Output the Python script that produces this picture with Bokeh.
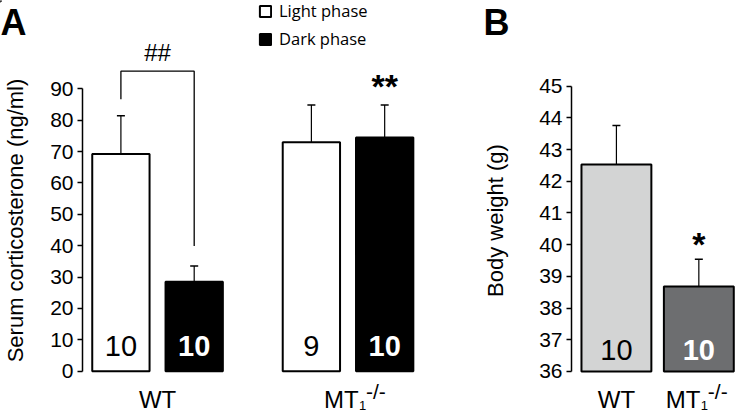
from bokeh.plotting import figure
from bokeh.layouts import row
from bokeh.models import (Range1d, FixedTicker, Whisker, TeeHead, ColumnDataSource,
                          Legend, LegendItem, GridBox)
from bokeh.core.properties import value
from bokeh.embed import file_html
from bokeh.resources import INLINE

# ---------------- data ----------------
genotypes = ["WT", "MT1-/-"]
phases = ["Light phase", "Dark phase"]
phase_colors = ["white", "black"]
cort_mean = [69.2, 28.5, 73.0, 74.5]      # WT light, WT dark, MT1 light, MT1 dark
cort_sem = [12.2, 5.0, 11.8, 10.3]
cort_n = [10, 10, 9, 10]
cort_ticks = [0, 10, 20, 30, 40, 50, 60, 70, 80, 90]

bw_mean = [42.53, 38.68]                  # WT, MT1-/-
bw_sem = [1.23, 0.86]
bw_n = [10, 10]
bw_ticks = [36, 37, 38, 39, 40, 41, 42, 43, 44, 45]

panel_letters = ["A", "B"]

# ---------------- style ----------------
FONT = "Liberation Sans"
LEG_FONT = "Open Sans"
H = 413
TOP = 27          # top border of both panels (keeps axis titles centred like the original)
W_A, W_B = 425, 311
GROUP_STEP = 2.599
BAR_W_A = 0.782
BAR_W_B = 0.848
LBL_MID = 28.5    # px below the axis origin for the category-label centre


def style_axis(p, ticks, label, standoff):
    for g in p.grid:
        g.visible = False
    ax = p.yaxis[0]
    ax.bounds = (ticks[0], ticks[-1])
    ax.ticker = FixedTicker(ticks=ticks)
    ax.minor_tick_line_color = None
    ax.major_tick_in = 0
    ax.major_tick_out = 5
    ax.major_tick_line_width = 1.5
    ax.major_tick_line_color = "black"
    ax.axis_line_width = 1.5
    ax.axis_line_color = "black"
    ax.major_label_text_font = FONT
    ax.major_label_text_font_size = "21px"
    ax.major_label_text_color = "black"
    ax.major_label_standoff = 4
    ax.axis_label = label
    ax.axis_label_text_font = FONT
    ax.axis_label_text_font_size = "22px"
    ax.axis_label_text_font_style = "normal"
    ax.axis_label_text_color = "black"
    ax.axis_label_standoff = standoff


def txt(p, x, y, text, size, **kw):
    opts = dict(text_font=value(FONT), text_font_size=size, text_align="center",
                text_baseline="middle", text_color="black")
    opts.update(kw)
    return p.text(x=x, y=y, text=text, **opts)


def mt_label(p, xc, y0, start):
    txt(p, [xc], [y0], ["MT"], "24px", x_offset=start, y_offset=LBL_MID, text_align="left")
    txt(p, [xc], [y0], ["1"], "13px", x_offset=start + 35, y_offset=LBL_MID + 6,
        text_align="left")
    txt(p, [xc], [y0], ["-/-"], "21px", x_offset=start + 42, y_offset=LBL_MID - 8,
        text_align="left")


# ---------------- panel A ----------------
xA = [g * GROUP_STEP + k for g in range(len(genotypes)) for k in range(len(phases))]
upperA = [m + s for m, s in zip(cort_mean, cort_sem)]
srcA = ColumnDataSource(dict(
    x=xA, top=cort_mean, upper=upperA,
    fill=phase_colors * 2,
    n=[str(v) for v in cort_n],
    ncolor=["black", "white"] * 2,
    nstyle=["normal", "bold"] * 2,
))

pA = figure(width=W_A, height=H, x_range=Range1d(-0.524, 4.156),
            y_range=Range1d(-13.48, 109.53), x_axis_location=None,
            output_backend="svg", toolbar_location=None,
            min_border_left=81, min_border_right=0, min_border_top=TOP,
            min_border_bottom=0, outline_line_color=None)
style_axis(pA, cort_ticks, "Serum corticosterone (ng/ml)", 19)

pA.vbar(x="x", top="top", bottom=0, width=BAR_W_A, fill_color="fill",
        line_color="black", line_width=2, source=srcA)
pA.add_layout(Whisker(source=srcA, base="x", upper="upper", lower="top",
                      dimension="height", line_color="black", line_width=1.2,
                      upper_head=TeeHead(size=8, line_width=1.5, line_color="black"),
                      lower_head=None))
txt(pA, "x", 0, "n", "29px", y_offset=-25, source=srcA, text_color="ncolor",
    text_font_style="nstyle")

# bracket + significance
br_top = 95.6
pA.line(x=[xA[0], xA[0], xA[1], xA[1]],
        y=[upperA[0] + 5.3, br_top, br_top, upperA[1] + 6.4],
        line_color="black", line_width=1.3)
txt(pA, [(xA[0] + xA[1]) / 2], [br_top], ["##"], "24px", y_offset=-19)
txt(pA, [xA[3]], [upperA[3]], ["**"], "34px", y_offset=-19, text_font_style="bold")

# group labels
gcA = [(xA[2 * g] + xA[2 * g + 1]) / 2 for g in range(len(genotypes))]
txt(pA, [gcA[0]], [0], [genotypes[0]], "24px", y_offset=LBL_MID)
mt_label(pA, gcA[1], 0, -24)

# ---------------- panel B ----------------
xB = list(range(len(genotypes)))
upperB = [m + s for m, s in zip(bw_mean, bw_sem)]
srcB = ColumnDataSource(dict(
    x=xB, top=bw_mean, upper=upperB,
    fill=["#d3d4d4", "#6d6e70"],
    n=[str(v) for v in bw_n],
    ncolor=["black", "white"],
    nstyle=["normal", "bold"],
))

pB = figure(width=W_B, height=H, x_range=Range1d(-0.545, 1.457),
            y_range=Range1d(34.675, 46.85), x_axis_location=None,
            output_backend="svg", toolbar_location=None,
            min_border_left=146, min_border_right=0, min_border_top=TOP,
            min_border_bottom=0, outline_line_color=None)
style_axis(pB, bw_ticks, "Body weight (g)", 28)

pB.vbar(x="x", top="top", bottom=bw_ticks[0], width=BAR_W_B, fill_color="fill",
        line_color="black", line_width=2, source=srcB)
pB.add_layout(Whisker(source=srcB, base="x", upper="upper", lower="top",
                      dimension="height", line_color="black", line_width=1.2,
                      upper_head=TeeHead(size=8, line_width=1.5, line_color="black"),
                      lower_head=None))
txt(pB, "x", bw_ticks[0], "n", "29px", y_offset=-21, source=srcB,
    text_color="ncolor", text_font_style="nstyle")
txt(pB, [xB[1]], [upperB[1]], ["*"], "34px", y_offset=-15, text_font_style="bold")
txt(pB, [xB[0]], [bw_ticks[0]], [genotypes[0]], "24px", y_offset=LBL_MID)
mt_label(pB, xB[1], bw_ticks[0], -33)

# ---------------- overlay: panel letters and phase legend ----------------
pO = figure(width=W_A + W_B, height=H, x_range=Range1d(0, W_A + W_B),
            y_range=Range1d(H, 0), x_axis_location=None, y_axis_location=None,
            output_backend="svg", toolbar_location=None, min_border=0,
            outline_line_color=None, background_fill_color=None,
            border_fill_color=None)
for g in pO.grid:
    g.visible = False
txt(pO, [0, 483], [21.5, 21.5], panel_letters, "36px", text_font_style="bold",
    text_align="left")
# legend swatches: renderers whose single bar lies off-canvas (only the legend shows them)
swatches = [pO.vbar(x=[-100], top=[1], bottom=[0], width=1, fill_color=c,
                    line_color="black", line_width=2) for c in phase_colors]
legend = Legend(items=[LegendItem(label=lab, renderers=[r], index=0)
                       for lab, r in zip(phases, swatches)],
                location=(258, 363), padding=0, margin=0, spacing=5,
                glyph_width=14, glyph_height=14, label_standoff=7,
                label_text_font=LEG_FONT, label_text_font_size="16.5px",
                label_text_color="black", border_line_color=None,
                background_fill_alpha=0)
pO.add_layout(legend)

panels = row(pA, pB, spacing=0)
layout = GridBox(children=[(panels, 0, 0), (pO, 0, 0)], spacing=0)
open("out.html", "w").write(file_html(layout, INLINE))
